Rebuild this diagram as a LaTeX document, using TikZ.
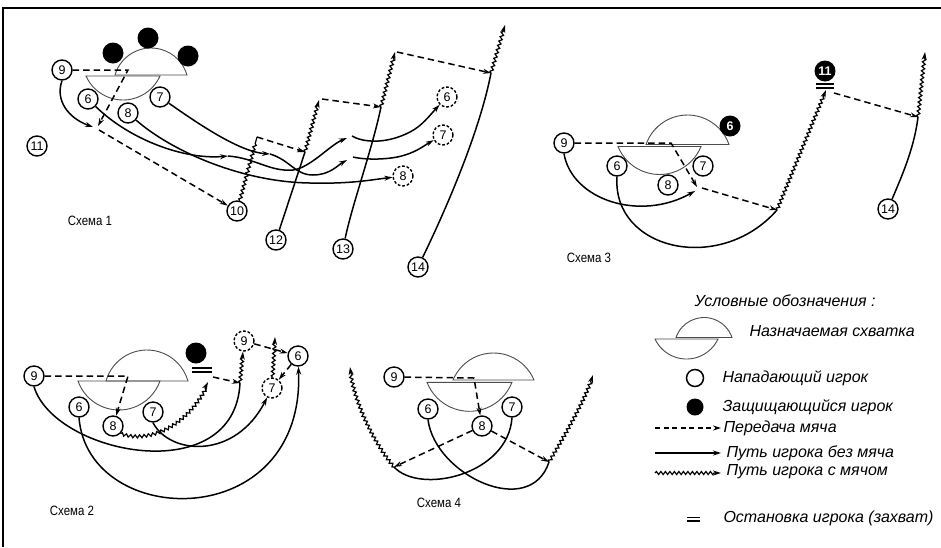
\documentclass[tikz,border=0pt]{standalone}
\usepackage{fontspec}
\setmainfont{Liberation Sans}
\usetikzlibrary{arrows.meta,decorations.pathmorphing}
\newcommand\numfont{\fontsize{12.5}{12.5}\selectfont}
\newcommand\schfont{\fontsize{13.5}{13.5}\selectfont}
\newcommand\legfont{\fontsize{16}{16}\selectfont\itshape}
\newcommand\scrumup[4]{%
  \pgfmathsetmacro\sgA{(#2-#1)/2}%
  \pgfmathsetmacro\sgR{(\sgA*\sgA+#4*#4)/(2*#4)}%
  \pgfmathsetmacro\sgT{asin(\sgA/\sgR)}%
  \draw[scrum] (#1,#3) arc[start angle={90+\sgT}, end angle={90-\sgT}, radius=\sgR pt] -- cycle;}
\newcommand\scrumdn[4]{%
  \pgfmathsetmacro\sgA{(#2-#1)/2}%
  \pgfmathsetmacro\sgR{(\sgA*\sgA+#4*#4)/(2*#4)}%
  \pgfmathsetmacro\sgT{asin(\sgA/\sgR)}%
  \draw[scrum] (#1,#3) arc[start angle={270-\sgT}, end angle={270+\sgT}, radius=\sgR pt] -- cycle;}
\tikzset{
  pl/.style={circle,draw,fill=white,line width=1.4pt,minimum size=20pt,inner sep=0pt,font=\numfont},
  gh/.style={pl,dash pattern=on 2.8pt off 1.8pt},
  df/.style={circle,fill=black,minimum size=21pt,inner sep=0pt,text=white,font=\numfont\bfseries},
  tip/.style={-{Stealth[length=8pt,width=5pt]}},
  runna/.style={line width=1.5pt},
  run/.style={runna,tip},
  pass/.style={line width=1.5pt,dash pattern=on 6.5pt off 4pt,tip},
  wavena/.style={line width=1.2pt,decorate,decoration={snake,amplitude=1.5pt,segment length=4.5pt,post length=6pt}},
  wave/.style={wavena,tip},
  scrum/.style={draw=black!70,line width=0.9pt},
  stopbar/.style={line width=1.6pt},
  sch/.style={font=\schfont},
  leg/.style={anchor=west,font=\legfont},
}
\begin{document}
\begin{tikzpicture}[x=1pt,y=-1pt]
\useasboundingbox (0,0) rectangle (941,547);
\fill[white] (0,0) rectangle (941,547);
\draw[line width=1.5pt] (3,547) -- (3,8) -- (941,8);

% ---------------- Scheme 1
\scrumup{115}{187}{75}{27}
\scrumdn{86}{160}{76}{24}
\node[df] (a-d1) at (113,53) {};
\node[df] (a-d2) at (148,38) {};
\node[df] (a-d3) at (188,56) {};
\node[pl] (a9) at (62,70) {9};
\node[pl] (a6) at (88,99) {6};
\node[pl] (a7) at (160,97) {7};
\node[pl] (a8) at (128,113) {8};
\node[pl] (a11) at (37,146) {11};
\node[pl] (a10) at (237,211) {10};
\node[pl] (a12) at (276,240) {12};
\node[pl] (a13) at (343,249) {13};
\node[pl] (a14) at (418,267) {14};
\node[gh] (a6g) at (447,97) {6};
\node[gh] (a7g) at (443,135) {7};
\node[gh] (a8g) at (403,176) {8};
\coordinate (a-s1) at (128,70);
\coordinate (a-b1) at (98,126);
\coordinate (a-r9) at (93,127);
\coordinate (a-b2) at (99,130);
\draw[pass] (a9) -- (a-s1) -- (a-b1);
\draw[run] (a9.south) .. controls (55,100) and (68,118) .. (a-r9);
\draw[pass] (a-b2) -- (a10);
\coordinate (a-w10) at (257,137);
\draw[wavena] (a10) -- (a-w10);
\coordinate (a-c12) at (305,152);
\draw[pass] (a-w10) -- (a-c12);
\draw[runna] (a12) -- (a-c12);
\coordinate (a-w12) at (319,100);
\draw[wave] (a-c12) -- (a-w12);
\coordinate (a-q12) at (322,99);
\coordinate (a-c13) at (381,107);
\draw[pass] (a-q12) -- (a-c13);
\draw[runna] (a13) .. controls (352,205) and (372,150) .. (a-c13);
\coordinate (a-w13) at (395,52);
\draw[wave] (a-c13) -- (a-w13);
\coordinate (a-q13) at (397,52);
\coordinate (a-c14) at (491,73);
\draw[pass] (a-q13) -- (a-c14);
\draw[runna] (a14) .. controls (448,205) and (480,130) .. (a-c14);
\coordinate (a-w14) at (505,25);
\draw[wave] (a-c14) -- (a-w14);
% forwards 6,7,8
\coordinate (a-k6a) at (228,156);
\coordinate (a-k6b) at (347,138);
\coordinate (a-k6c) at (352,136);
\draw[run] (a6) .. controls (130,140) and (185,160) .. (a-k6a);
\draw[run] (a-k6a) .. controls (255,158) and (270,172) .. (293,170) .. controls (310,168) and (330,145) .. (a-k6b);
\draw[run] (a-k6c) .. controls (362,142) and (385,145) .. (410,132) .. controls (422,126) and (430,115) .. (a6g);
\coordinate (a-k7a) at (270,154);
\coordinate (a-k7b) at (347,160);
\coordinate (a-k7c) at (353,157);
\draw[run] (a7) .. controls (200,125) and (240,152) .. (a-k7a);
\draw[run] (a-k7a) .. controls (290,160) and (295,175) .. (313,175) .. controls (330,175) and (338,165) .. (a-k7b);
\draw[run] (a-k7c) .. controls (365,160) and (390,160) .. (405,155) .. controls (418,151) and (425,145) .. (a7g);
\draw[run] (a8) .. controls (170,150) and (240,182) .. (310,183) .. controls (350,184) and (370,180) .. (a8g);
\node[sch] (a-lab) at (90,221) {\scalebox{0.85}[1]{Схема 1}};

% ---------------- Scheme 3
\scrumup{646}{729}{144.5}{29.5}
\scrumdn{618}{701}{146.5}{28}
\node[df] (c-d6) at (730,126) {6};
\node[df] (c-d11) at (825,71) {11};
\draw[stopbar] (816,84) -- (834,84) (816,88) -- (834,88);
\node[pl] (c9) at (564,143) {9};
\node[pl] (c6) at (617,166) {6};
\node[pl] (c8) at (668,185) {8};
\node[pl] (c7) at (703,166) {7};
\node[pl] (c14) at (888,209) {14};
\coordinate (c-s1) at (671,143);
\coordinate (c-b1) at (697,187);
\coordinate (c-r9) at (695,191);
\draw[pass] (c9) -- (c-s1) -- (c-b1);
\draw[run] (c9.south) .. controls (572,200) and (640,222) .. (c-r9);
\coordinate (c-b2) at (702,188);
\coordinate (c-c6) at (777,210);
\draw[pass] (c-b2) -- (c-c6);
\draw[runna] (c6.south) .. controls (612,250) and (720,275) .. (c-c6);
\coordinate (c-w6) at (826,90);
\draw[wave] (c-c6) -- (c-w6);
\coordinate (c-q11) at (834,93);
\coordinate (c-c14) at (918,117);
\draw[pass] (c-q11) -- (c-c14);
\draw[runna] (c14) .. controls (900,180) and (914,150) .. (c-c14);
\coordinate (c-w14) at (925,52);
\draw[wave] (c-c14) -- (c-w14);
\node[sch] (c-lab) at (589,258) {\scalebox{0.85}[1]{Схема 3}};

% ---------------- Scheme 2
\scrumup{106}{188}{381}{31}
\scrumdn{78}{160}{381}{29}
\node[df] (b-d) at (196,353) {};
\draw[stopbar] (192,368) -- (212,368) (192,372) -- (212,372);
\node[pl] (b9) at (34,376) {9};
\node[pl] (b6) at (79,407) {6};
\node[pl] (b8) at (113,426) {8};
\node[pl] (b7) at (153,412) {7};
\node[gh] (b9g) at (244,341) {9};
\node[pl] (b6g) at (298,356) {6};
\node[gh] (b7g) at (272,388) {7};
\coordinate (b-s1) at (128,376);
\draw[pass] (b9) -- (b-s1) -- (b8);
\coordinate (b-c8) at (208,382);
\draw[wave] (b8.south east) .. controls (145,442) and (185,430) .. (b-c8);
\coordinate (b-q) at (213,377);
\coordinate (b-c9) at (240,383);
\draw[pass] (b-q) -- (b-c9);
\draw[runna] (b9.south) .. controls (55,455) and (235,490) .. (b-c9);
\draw[wave] (b-c9) -- (b9g);
\draw[pass] (b9g) -- (b6g);
\draw[pass] (b6g) -- (b7g);
\coordinate (b-w7) at (275,337);
\draw[wave] (b7g) -- (b-w7);
\draw[run] (b7.south) .. controls (170,455) and (235,460) .. (b7g);
\draw[run] (b6.south) .. controls (88,530) and (305,535) .. (b6g);
\node[sch] (b-lab) at (72,511) {\scalebox{0.85}[1]{Схема 2}};

% ---------------- Scheme 4
\scrumup{453}{534}{380}{27}
\scrumdn{427}{512}{382.3}{29}
\node[pl] (d9) at (394,377) {9};
\node[pl] (d6) at (428,409) {6};
\node[pl] (d8) at (482,426) {8};
\node[pl] (d7) at (512,407) {7};
\coordinate (d-s1) at (474,378);
\draw[pass] (d9) -- (d-s1) -- (d8);
\coordinate (d-c7) at (394,467);
\coordinate (d-c6) at (549,462);
\draw[pass] (d8) -- (d-c7);
\draw[pass] (d8) -- (d-c6);
\draw[runna] (d6.south) .. controls (435,475) and (530,520) .. (d-c6);
\draw[runna] (d7.south) .. controls (508,475) and (420,495) .. (d-c7);
\coordinate (d-w6) at (593,375);
\coordinate (d-w7) at (350,367);
\draw[wave] (d-c6) .. controls (565,435) and (585,400) .. (d-w6);
\draw[wave] (d-c7) .. controls (372,440) and (354,400) .. (d-w7);
\node[sch] (d-lab) at (439,503) {\scalebox{0.85}[1]{Схема 4}};

% ---------------- Legend
\node[leg] (l-title) at (691,301) {Условные обозначения :};
\scrumup{676}{732}{337.5}{20}
\scrumdn{655}{718}{339}{20}
\node[leg] (l-t1) at (746,331) {Назначаемая схватка};
\node[circle,draw,line width=1.5pt,minimum size=17pt,inner sep=0pt] (l-att) at (695,378) {};
\node[leg] (l-t2) at (719,378) {Нападающий игрок};
\node[circle,fill=black,minimum size=17pt,inner sep=0pt] (l-def) at (695,407) {};
\node[leg] (l-t3) at (719,407) {Защищающийся игрок};
\coordinate (l-p0) at (655,428); \coordinate (l-p1) at (721,428);
\draw[pass,dash pattern=on 5pt off 3.5pt] (l-p0) -- (l-p1);
\node[leg] (l-t4) at (720,428) {Передача мяча};
\coordinate (l-r0) at (655,453); \coordinate (l-r1) at (721,453);
\draw[run] (l-r0) -- (l-r1);
\node[leg] (l-t5) at (723,453) {Путь игрока без мяча};
\coordinate (l-w0) at (655,473); \coordinate (l-w1) at (721,473);
\draw[wave] (l-w0) -- (l-w1);
\node[leg] (l-t6) at (723,472) {Путь игрока с мячом};
\draw[stopbar] (687,517.5) -- (700,517.5) (687,521) -- (700,521);
\node[leg] (l-t7) at (720,518) {Остановка игрока (захват)};
\end{tikzpicture}
\end{document}
